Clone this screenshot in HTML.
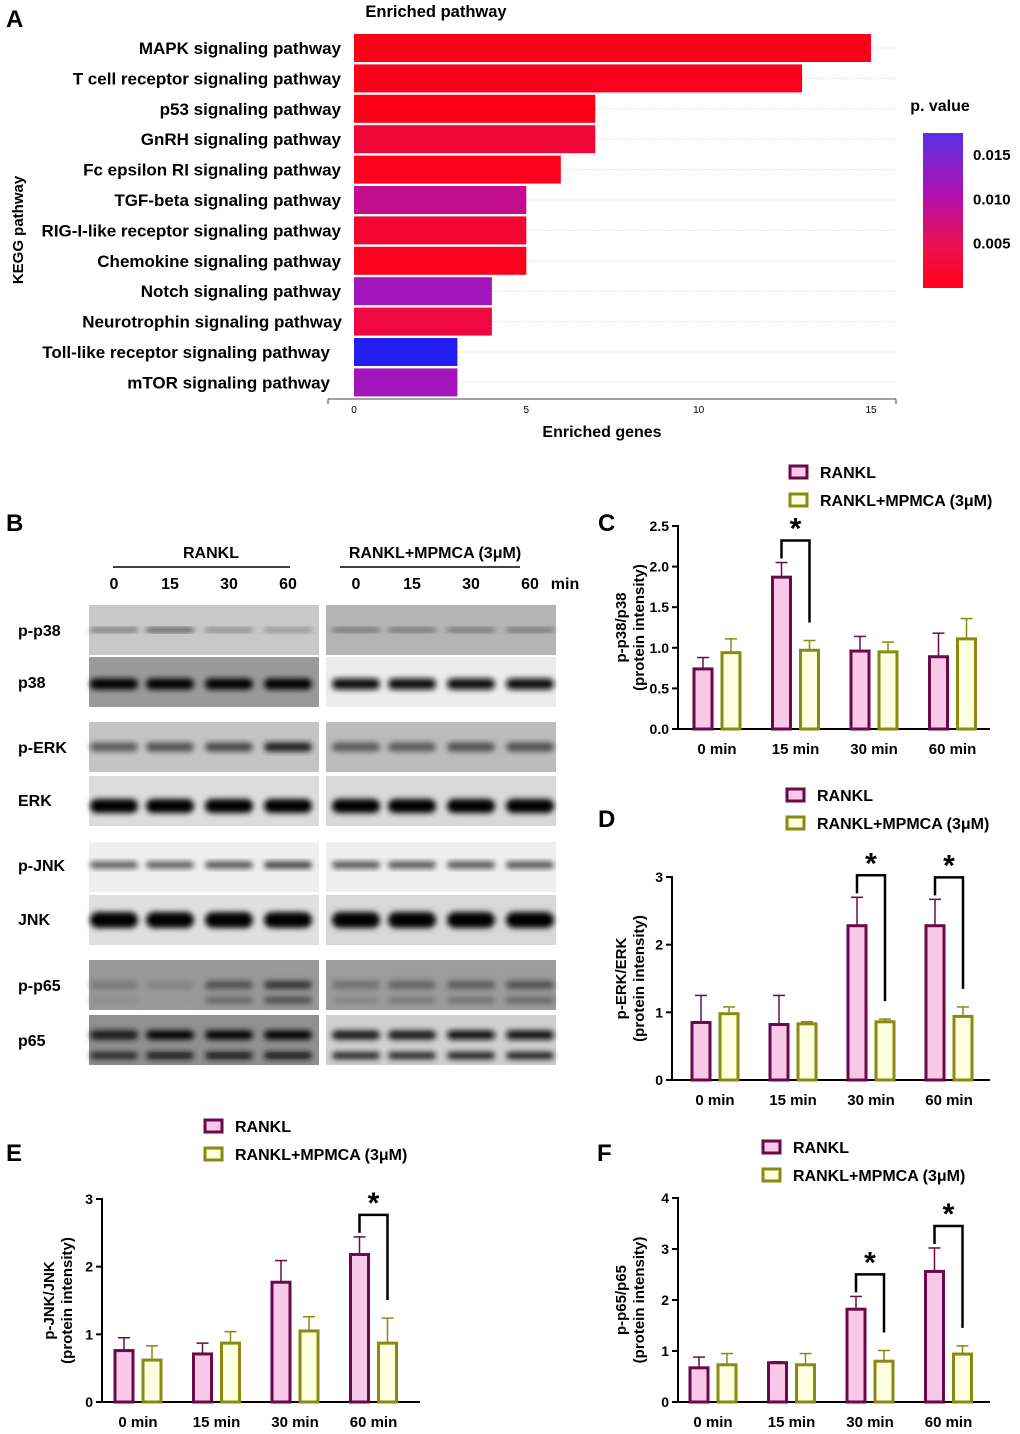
<!DOCTYPE html>
<html><head><meta charset="utf-8"><style>
body{margin:0;background:#fff}
svg{display:block;font-family:"Liberation Sans",Arial,sans-serif;font-weight:bold}
</style></head><body>
<svg id="fig" width="1020" height="1434" viewBox="0 0 1020 1434" xmlns="http://www.w3.org/2000/svg">
<defs>
<linearGradient id="cbar" x1="0" y1="0" x2="0" y2="1">
<stop offset="0" stop-color="#5a30e8"/><stop offset="0.4" stop-color="#b010b0"/><stop offset="0.75" stop-color="#f0104a"/><stop offset="1" stop-color="#ff0018"/>
</linearGradient>
<filter id="blur" x="-20%" y="-50%" width="140%" height="200%"><feGaussianBlur stdDeviation="3"/></filter>
</defs>
<g id="panelA"></g>
<g id="panelB"></g>
<g id="charts"></g>
</svg>
<script>
const NS="http://www.w3.org/2000/svg";
// ---- Panel A data ----
const pathways=["MAPK signaling pathway","T cell receptor signaling pathway","p53 signaling pathway","GnRH signaling pathway","Fc epsilon RI signaling pathway","TGF-beta signaling pathway","RIG-I-like receptor signaling pathway","Chemokine signaling pathway","Notch signaling pathway","Neurotrophin signaling pathway","Toll-like receptor signaling pathway","mTOR signaling pathway"];
const genes=[15,13,7,7,6,5,5,5,4,4,3,3];
const pvals=[0.0003,0.0008,0.0002,0.004,0.001,0.009,0.003,0.001,0.012,0.005,0.017,0.012];
const geneTicks=[0,5,10,15];
const pTicks=[0.015,0.010,0.005];
// ---- Bar chart data ----
const timeCats=["0 min","15 min","30 min","60 min"];
const cRankl=[0.74,1.87,0.96,0.89], cRanklErr=[0.14,0.18,0.18,0.29];
const cMpmca=[0.94,0.97,0.95,1.11], cMpmcaErr=[0.17,0.12,0.12,0.25];
const cTicks=["0.0","0.5","1.0","1.5","2.0","2.5"];
const dRankl=[0.85,0.82,2.28,2.28], dRanklErr=[0.40,0.43,0.42,0.39];
const dMpmca=[0.98,0.83,0.86,0.94], dMpmcaErr=[0.10,0.03,0.04,0.14];
const dTicks=["0","1","2","3"];
const eRankl=[0.76,0.71,1.77,2.18], eRanklErr=[0.19,0.16,0.32,0.26];
const eMpmca=[0.62,0.87,1.05,0.87], eMpmcaErr=[0.21,0.17,0.21,0.37];
const eTicks=["0","1","2","3"];
const fRankl=[0.67,0.77,1.82,2.56], fRanklErr=[0.21,0.02,0.25,0.46];
const fMpmca=[0.73,0.73,0.80,0.94], fMpmcaErr=[0.22,0.22,0.21,0.16];
const fTicks=["0","1","2","3","4"];

function el(parent,tag,attrs,text){const e=document.createElementNS(NS,tag);for(const k in attrs)e.setAttribute(k,attrs[k]);if(text!==undefined)e.textContent=text;parent.appendChild(e);return e;}

// ---------- Panel A ----------
(function(){
const g=document.getElementById('panelA');
const x0=354,x15=871,xs=v=>x0+(x15-x0)*v/15;
const rowY=i=>48+i*30.4;
function pcol(p){const t=Math.min(1,p/0.0175);const stops=[[0,[255,0,20]],[0.3,[238,8,70]],[0.6,[176,16,170]],[0.75,[150,24,200]],[1,[20,30,245]]];for(let i=1;i<stops.length;i++){if(t<=stops[i][0]){const a=stops[i-1],b=stops[i];const f=(t-a[0])/(b[0]-a[0]);return 'rgb('+a[1].map((c,j)=>Math.round(c+(b[1][j]-c)*f)).join(',')+')';}}return 'rgb(20,30,245)';}
let t=el(g,'text',{x:6,y:27,'font-size':24},'A');
t=el(g,'text',{x:436,y:17,'font-size':16.5,'text-anchor':'middle'},'Enriched pathway');
t=el(g,'text',{x:0,y:0,'font-size':15,'text-anchor':'middle',transform:'translate(23,230) rotate(-90)'},'KEGG pathway');
pathways.forEach((name,i)=>{
 const y=rowY(i);
 const gl=el(g,'line',{x1:xs(genes[i]),x2:896,y1:y,y2:y,stroke:'#ccc','stroke-dasharray':'1 2','stroke-width':1});
 
 const b=el(g,'rect',{x:x0,y:y-14,width:xs(genes[i])-x0,height:28,fill:pcol(pvals[i])});
 
 const lx=(i>=10)?330:(i==9?342:341);
 const l=el(g,'text',{x:lx,y:y+6,'font-size':17,'text-anchor':'end'},name);
 
});
let a=el(g,'line',{x1:328,x2:896,y1:399,y2:399,stroke:'#444','stroke-width':1});
el(g,'line',{x1:328,x2:328,y1:399,y2:404,stroke:'#444'});el(g,'line',{x1:896,x2:896,y1:399,y2:404,stroke:'#444'});
geneTicks.forEach(v=>{const tk=el(g,'text',{x:xs(v),y:413,'font-size':10,'font-weight':'normal','text-anchor':'middle'},String(v));});
t=el(g,'text',{x:602,y:437,'font-size':16,'text-anchor':'middle'},'Enriched genes');
t=el(g,'text',{x:940,y:111,'font-size':16,'text-anchor':'middle'},'p. value');
const cb=el(g,'rect',{x:923,y:133,width:40,height:155,fill:'url(#cbar)'});
const pmax=0.0175,pmin=0,cy=p=>288-(p-pmin)/(pmax-pmin)*155;
pTicks.forEach(p=>{const tk=el(g,'text',{x:973,y:cy(p)+5,'font-size':15},p.toFixed(3));});
})();

// ---------- Panel B (blots) ----------
(function(){
const g=document.getElementById('panelB');
let t=el(g,'text',{x:6,y:531,'font-size':24},'B');
t=el(g,'text',{x:211,y:558,'font-size':16,'text-anchor':'middle'},'RANKL');
el(g,'line',{x1:113,x2:290,y1:567,y2:567,stroke:'#000','stroke-width':1.5});
t=el(g,'text',{x:435,y:558,'font-size':16,'text-anchor':'middle'},'RANKL+MPMCA (3μM)');
el(g,'line',{x1:340,x2:520,y1:567,y2:567,stroke:'#000','stroke-width':1.5});
const lanesL=[114,170,229,288],lanesR=[356,412,471,530],laneLbl=["0","15","30","60"];
lanesL.concat(lanesR).forEach((x,i)=>{const tk=el(g,'text',{x:x,y:589,'font-size':16,'text-anchor':'middle'},laneLbl[i%4]);});
el(g,'text',{x:565,y:589,'font-size':16,'text-anchor':'middle'},'min');
const rows=[
 {n:'p-p38',y:605,h:50,bgL:'#c8c8c8',bgR:'#b4b4b4',int:[0.5,0.7,0.4,0.35],intR:[0.5,0.5,0.5,0.5],bh:4,dy:0},
 {n:'p38',y:657,h:50,bgL:'#9a9a9a',bgR:'#ececec',int:[1,1,1,1],intR:[0.95,0.95,0.95,0.95],bh:11,dy:2},
 {n:'p-ERK',y:722,h:50,bgL:'#c4c4c4',bgR:'#bcbcbc',int:[0.55,0.6,0.65,0.85],intR:[0.55,0.55,0.6,0.6],bh:9,dy:0},
 {n:'ERK',y:776,h:50,bgL:'#dcdcdc',bgR:'#d8d8d8',int:[1,1,1,1],intR:[1,1,1,1],bh:14,dy:5},
 {n:'p-JNK',y:842,h:50,bgL:'#efefef',bgR:'#efefef',int:[0.55,0.55,0.6,0.7],intR:[0.6,0.6,0.6,0.6],bh:7,dy:-2},
 {n:'JNK',y:895,h:50,bgL:'#e0e0e0',bgR:'#d8d8d8',int:[1,1,1,1],intR:[1,1,1,1],bh:16,dy:0},
 {n:'p-p65',y:960,h:50,bgL:'#999',bgR:'#9c9c9c',int:[0.4,0.35,0.6,0.75],intR:[0.45,0.5,0.55,0.6],bh:8,dy:0},
 {n:'p65',y:1015,h:50,bgL:'#909090',bgR:'#d0d0d0',int:[0.9,1,1,1],intR:[0.9,0.9,0.95,0.95],bh:9,dy:-5},
];
const labelY=[631,683,748,801,866,920,986,1041];
rows.forEach((r,ri)=>{
 const lb=el(g,'text',{x:18,y:labelY[ri]+5,'font-size':16},r.n);
 [[89,r.bgL,lanesL,r.int],[326,r.bgR,lanesR,r.intR]].forEach(([x,bg,lanes,ints])=>{
  const bl=el(g,'rect',{x:x,y:r.y,width:230,height:r.h,fill:bg});
  const gg=el(g,'g',{filter:'url(#blur)'});
  lanes.forEach((lx,i)=>{
   const v=Math.round(200*(1-ints[i]));
   el(gg,'rect',{x:lx-24,y:r.y+r.h/2+r.dy-r.bh/2,width:48,height:r.bh,rx:r.bh/2,fill:'rgb('+v+','+v+','+v+')'});
   if(r.n==='p65'||r.n==='p-p65'){el(gg,'rect',{x:lx-24,y:r.y+r.h/2+12,width:48,height:r.bh*0.8,rx:4,fill:'rgb('+(v+20)+','+(v+20)+','+(v+20)+')'});}
  });
 });
});
})();

// ---------- bar charts ----------
function barChart(o){
 const g=el(document.getElementById('charts'),'g',{});
 
 const ys=v=>o.y0-(o.y0-o.yTop)*v/o.ymax;
 let t=el(g,'text',{x:o.lx,y:o.ly,'font-size':24},o.id.toUpperCase());
 [[o.legY,'#f8c8e8','#6a0a4a','RANKL'],[o.legY+28,'#fdfde0','#8a8a10','RANKL+MPMCA (3μM)']].forEach(([y,f,s,tx],i)=>{
  const r=el(g,'rect',{x:o.legX,y:y-6,width:17,height:12,fill:f,stroke:s,'stroke-width':3});
  const l=el(g,'text',{x:o.legX+30,y:y+6,'font-size':16},tx);
 });
 let ax=el(g,'line',{x1:o.ax,x2:o.ax,y1:o.yTop-1,y2:o.y0,stroke:'#000','stroke-width':2});
 ax=el(g,'line',{x1:o.ax,x2:o.axEnd,y1:o.y0,y2:o.y0,stroke:'#000','stroke-width':2});
 o.ticks.forEach((tl,i)=>{const v=o.ymax*i/(o.ticks.length-1);const y=ys(v);
  el(g,'line',{x1:o.ax-6,x2:o.ax,y1:y,y2:y,stroke:'#000','stroke-width':2});
  const tk=el(g,'text',{x:o.ax-9,y:y+5,'font-size':14,'text-anchor':'end'},tl);});
 t=el(g,'text',{x:0,y:0,'font-size':15,'text-anchor':'middle',transform:'translate('+(o.ax-o.tOff)+','+((o.y0+o.yTop)/2)+') rotate(-90)'});
 
 el(t,'tspan',{x:0,dy:0},o.ytitle);el(t,'tspan',{x:0,dy:18},'(protein intensity)');
 timeCats.forEach((c,i)=>{
  const cx=o.gx0+i*o.gstep;
  [[o.a,o.ae,-14,'#f8c8e8','#6a0a4a','rankl'],[o.b,o.be,14,'#fdfde0','#8a8a10','mpmca']].forEach(([vals,errs,off,f,s,nm])=>{
   const bx=cx+off;const y=ys(vals[i]);
   el(g,'line',{x1:bx,x2:bx,y1:y,y2:ys(vals[i]+errs[i]),stroke:s,'stroke-width':1.5});
   el(g,'line',{x1:bx-6,x2:bx+6,y1:ys(vals[i]+errs[i]),y2:ys(vals[i]+errs[i]),stroke:s,'stroke-width':1.5});
   const r=el(g,'rect',{x:bx-9,y:y,width:18,height:o.y0-y,fill:f,stroke:s,'stroke-width':3});
   
  });
  const xl=el(g,'text',{x:cx,y:o.y0+25,'font-size':15,'text-anchor':'middle'},c);
  if(o.sig.includes(i)){
   const top=ys(o.a[i]+o.ae[i])-22;
   const lb=ys(o.a[i]+o.ae[i])-4, rb=ys(o.b[i]+o.be[i])-18;
   const p=el(g,'path',{d:'M'+(cx-14)+' '+lb+'V'+top+'H'+(cx+14)+'V'+rb,fill:'none',stroke:'#000','stroke-width':2.5});
   
   const st=el(g,'text',{x:cx,y:top-2,'font-size':30,'text-anchor':'middle'},'*');
  }
 });
}
barChart({id:'c',a:cRankl,ae:cRanklErr,b:cMpmca,be:cMpmcaErr,ticks:cTicks,ymax:2.5,y0:729,yTop:526,ax:678,axEnd:990,gx0:717,gstep:78.5,lx:598,ly:531,legX:790,legY:472,ytitle:'p-p38/p38',tOff:52,sig:[1]});
barChart({id:'d',a:dRankl,ae:dRanklErr,b:dMpmca,be:dMpmcaErr,ticks:dTicks,ymax:3,y0:1080,yTop:877,ax:672,axEnd:990,gx0:715,gstep:78,lx:598,ly:827,legX:787,legY:795,ytitle:'p-ERK/ERK',tOff:46,sig:[2,3]});
barChart({id:'e',a:eRankl,ae:eRanklErr,b:eMpmca,be:eMpmcaErr,ticks:eTicks,ymax:3,y0:1402,yTop:1199,ax:102,axEnd:420,gx0:138,gstep:78.5,lx:6,ly:1161,legX:205,legY:1126,ytitle:'p-JNK/JNK',tOff:48,sig:[3]});
barChart({id:'f',a:fRankl,ae:fRanklErr,b:fMpmca,be:fMpmcaErr,ticks:fTicks,ymax:4,y0:1402,yTop:1198,ax:678,axEnd:990,gx0:713,gstep:78.5,lx:597,ly:1161,legX:763,legY:1147,ytitle:'p-p65/p65',tOff:52,sig:[2,3]});
</script>
</body></html>
